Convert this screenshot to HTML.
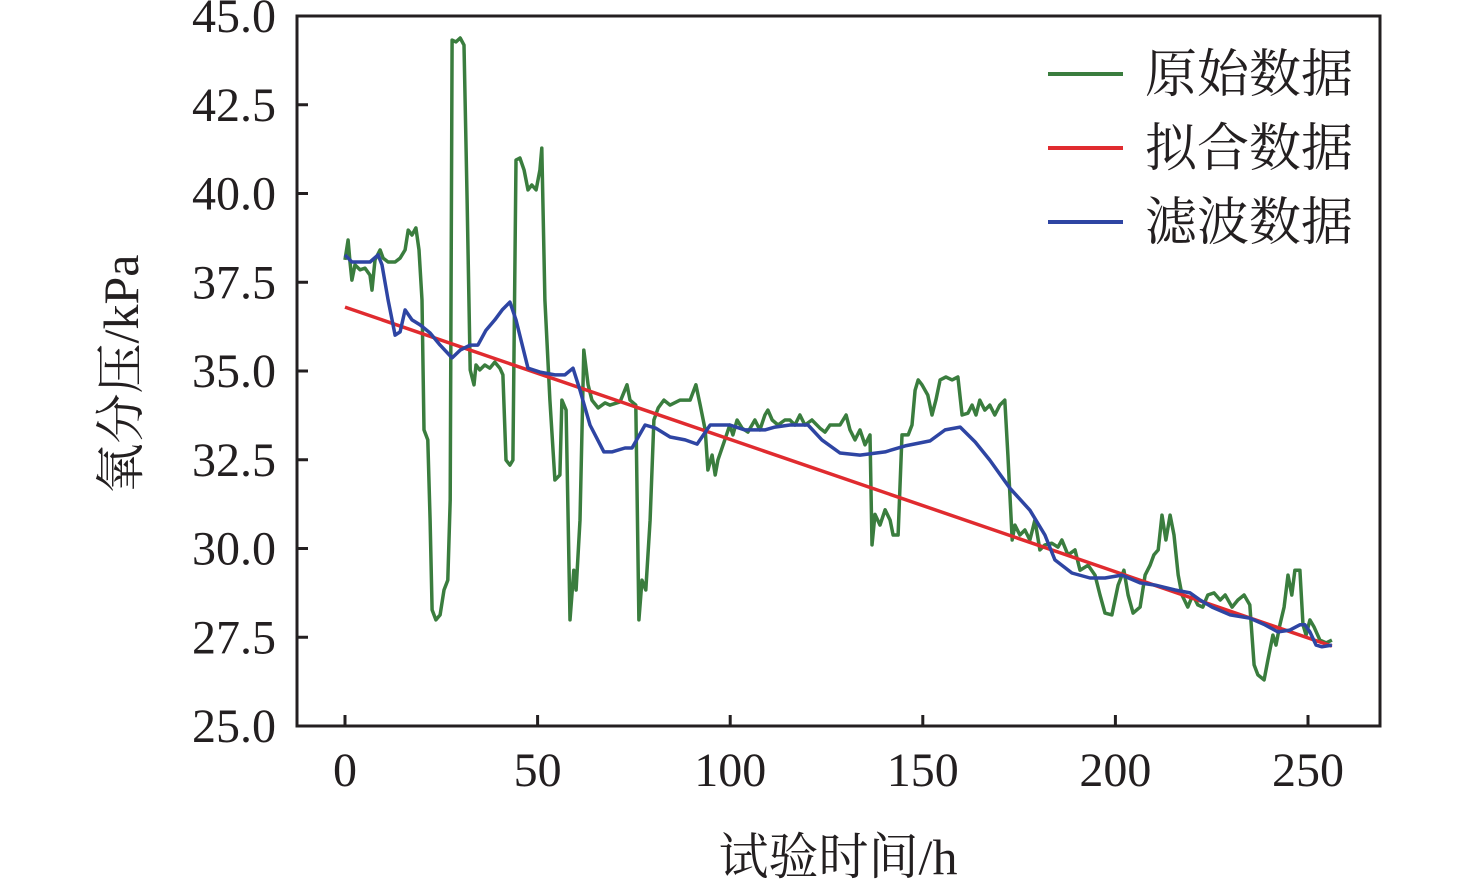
<!DOCTYPE html>
<html><head><meta charset="utf-8"><style>
html,body{margin:0;padding:0;background:#fff;}
svg{display:block;}
text{fill:#231f20;}
.num{font-family:"Liberation Serif","Times New Roman",Times,serif;}
.cjk{font-family:"Liberation Serif","Noto Serif CJK SC","Noto Sans CJK SC",serif;}
</style></head><body>
<svg id="chart" width="1476" height="890" viewBox="0 0 1476 890"></svg>
<script>
const yTicks=[25.0,27.5,30.0,32.5,35.0,37.5,40.0,42.5,45.0];
const xTicks=[0,50,100,150,200,250];
const rawHours=[0,0.8,1.3,1.8,2.6,3.9,5.2,6.5,7.0,7.8,9.1,9.9,11.2,13.0,14.3,15.6,16.4,17.4,18.4,19.2,20.0,20.5,21.5,22.1,22.6,23.6,24.7,25.7,26.7,27.3,27.8,28.8,29.9,30.9,31.7,32.5,33.5,34.0,35.0,36.3,37.6,38.9,40.2,41.0,41.8,42.8,43.6,44.4,45.4,46.5,47.5,48.5,49.6,50.6,51.1,51.9,53.2,54.5,55.8,56.3,57.4,58.4,59.4,60.0,61.0,62.0,63.1,64.1,65.7,67.5,68.8,71.4,73.2,74.0,75.5,76.3,77.1,78.1,79.2,80.2,81.3,82.8,84.4,87.0,89.6,91.1,92.2,93.5,94.2,95.3,96.1,96.8,98.6,99.9,100.7,101.8,103.1,104.6,106.4,107.7,109.0,109.8,110.9,112.4,114.2,115.5,116.8,118.1,119.4,121.2,123.3,124.6,125.9,128.5,130.1,131.1,132.4,133.7,135.0,136.3,136.8,137.6,138.9,140.2,141.5,142.3,143.6,144.6,146.2,147.2,148.0,148.8,149.8,151.3,152.4,153.4,154.5,156.0,157.6,159.1,160.2,161.7,162.8,163.8,164.8,166.1,167.4,168.7,170.0,171.3,172.1,173.2,173.9,175.2,176.5,177.8,179.1,180.4,181.7,183.5,185.1,186.1,187.7,189.5,190.8,192.9,194.7,196.0,197.3,199.1,200.7,202.2,203.3,204.6,206.4,207.7,209.0,210.0,211.1,212.1,213.1,214.2,215.2,216.3,217.3,218.8,220.1,221.4,222.7,224.0,225.6,227.2,228.5,230.3,231.8,233.4,234.9,236.0,237.0,238.6,239.6,240.9,241.7,242.7,243.8,244.8,245.8,246.6,247.9,248.7,249.5,250.5,251.6,253.1,254.7,256.2];
const rawValues=[38.13,38.69,38.07,37.56,37.99,37.85,37.90,37.70,37.28,38.13,38.41,38.18,38.07,38.07,38.18,38.41,38.97,38.83,39.03,38.41,37.0,33.34,33.06,30.80,28.27,27.99,28.13,28.83,29.11,31.37,44.32,44.27,44.38,44.18,39.82,35.03,34.61,35.17,35.03,35.17,35.08,35.25,35.08,34.89,32.49,32.35,32.49,40.94,41.0,40.66,40.10,40.24,40.10,40.66,41.28,37.0,34.18,31.93,32.07,34.18,33.90,27.99,29.39,28.83,30.80,35.59,34.61,34.18,33.96,34.10,34.04,34.13,34.61,34.18,34.04,27.99,29.11,28.83,30.80,33.62,33.96,34.18,34.04,34.18,34.18,34.61,34.04,33.34,32.21,32.63,32.07,32.49,33.06,33.48,33.20,33.62,33.39,33.28,33.62,33.34,33.76,33.90,33.62,33.48,33.62,33.62,33.48,33.76,33.48,33.62,33.39,33.28,33.48,33.48,33.76,33.34,33.06,33.34,32.92,33.20,30.10,30.96,30.66,31.09,30.80,30.38,30.38,33.20,33.20,33.48,34.46,34.75,34.61,34.32,33.76,34.18,34.75,34.83,34.75,34.83,33.76,33.81,34.04,33.76,34.18,33.90,34.04,33.76,34.04,34.18,32.63,30.24,30.66,30.38,30.52,30.24,30.80,29.96,30.10,30.15,30.04,30.24,29.82,29.96,29.39,29.53,29.25,28.69,28.18,28.13,28.97,29.39,28.69,28.18,28.35,29.25,29.53,29.82,29.96,30.94,30.24,30.94,30.38,29.25,28.69,28.35,28.69,28.41,28.35,28.69,28.75,28.55,28.69,28.35,28.55,28.69,28.41,26.72,26.44,26.30,26.86,27.56,27.28,27.85,28.35,29.25,28.69,29.39,29.39,27.85,27.56,27.99,27.78,27.42,27.34,27.42];
const filtHours=[0,1.8,3.9,6.5,8.6,9.6,11.2,13.0,14.3,15.6,17.4,19.5,22.1,24.7,27.8,29.9,32.5,34.5,36.6,38.9,40.8,42.8,44.4,47.5,50.6,54.5,57.1,59.2,61.0,63.6,67.2,69.3,72.7,74.5,77.9,80.7,84.4,88.3,91.4,94.8,99.9,103.8,109.0,111.6,115.5,120.2,123.8,128.5,133.7,140.2,145.4,151.9,155.8,159.7,163.6,167.4,172.6,177.8,181.7,184.3,188.7,193.4,197.3,201.7,206.4,210.3,215.5,219.4,222.0,225.1,229.8,234.9,238.8,242.2,245.3,247.9,249.2,250.5,252.1,253.6,256.2];
const filtValues=[38.27,38.07,38.07,38.07,38.27,37.99,37.0,36.01,36.10,36.72,36.44,36.30,36.07,35.73,35.37,35.59,35.73,35.73,36.15,36.44,36.72,36.94,36.44,35.08,34.97,34.89,34.89,35.08,34.46,33.48,32.72,32.72,32.83,32.83,33.48,33.39,33.14,33.06,32.94,33.48,33.48,33.34,33.34,33.42,33.48,33.48,33.06,32.69,32.63,32.72,32.89,33.03,33.34,33.42,33.0,32.49,31.70,31.08,30.38,29.68,29.31,29.17,29.17,29.25,29.03,28.97,28.83,28.75,28.55,28.35,28.13,28.04,27.85,27.65,27.70,27.85,27.85,27.65,27.28,27.23,27.28];
const fitHours=[0,256.2];
const fitValues=[36.80,27.25];

const NS='http://www.w3.org/2000/svg';
const svg=document.getElementById('chart');
const L=297,R=1380,T=16,B=726;
const X0=345,XS=(1308-345)/250;
function sx(h){return X0+h*XS;}
function sy(v){return B-(v-25)*(B-T)/20;}
function mk(tag,attrs,parent){const e=document.createElementNS(NS,tag);for(const k in attrs)e.setAttribute(k,attrs[k]);(parent||svg).appendChild(e);return e;}

const plot=mk('g',{});



function line(xs,ys,color,w,name){
  const p=mk('polyline',{points:xs.map((h,i)=>sx(h).toFixed(1)+','+sy(ys[i]).toFixed(1)).join(' '),fill:'none',stroke:color,'stroke-width':w,'stroke-linejoin':'round'},plot);
  
  
}
line(rawHours,rawValues,'#3a7d3e',3.5,'raw-data-line');
line(fitHours,fitValues,'#e02b2f',3.5,'fitted-data-line');
line(filtHours,filtValues,'#2e45a3',3.5,'filtered-data-line');

const frame=mk('rect',{x:L,y:T,width:R-L,height:B-T,fill:'none',stroke:'#231f20','stroke-width':3});



yTicks.forEach(v=>{
  const y=sy(v);
  const t=mk('line',{x1:L,x2:L+11,y1:y,y2:y,stroke:'#231f20','stroke-width':3});
  
  
  const l=mk('text',{x:276,y:y+16,'text-anchor':'end','font-size':48,class:'num'});
  l.textContent=v.toFixed(1);
  
  
});
xTicks.forEach(h=>{
  const x=sx(h);
  const t=mk('line',{x1:x,x2:x,y1:B,y2:B-11,stroke:'#231f20','stroke-width':3});
  
  
  const l=mk('text',{x:x,y:786,'text-anchor':'middle','font-size':48,class:'num'});
  l.textContent=h;
  
  
});

const xt=mk('text',{x:838,y:874,'text-anchor':'middle','font-size':50,class:'cjk'});
xt.textContent='试验时间/h';


const yt=mk('text',{x:0,y:0,'text-anchor':'middle','font-size':50,class:'cjk',transform:'translate(138,374) rotate(-90)'});
yt.textContent='氧分压/kPa';



const legend=mk('g',{});


[['原始数据','#3a7d3e',74],['拟合数据','#e02b2f',148],['滤波数据','#2e45a3',222]].forEach(([name,c,y])=>{
  const g=mk('g',{},legend);
  
  
  mk('line',{x1:1048,x2:1123,y1:y,y2:y,stroke:c,'stroke-width':4},g);
  const t=mk('text',{x:1145,y:y+18,'font-size':52,class:'cjk'},g);
  t.textContent=name;
});
</script>
</body></html>
